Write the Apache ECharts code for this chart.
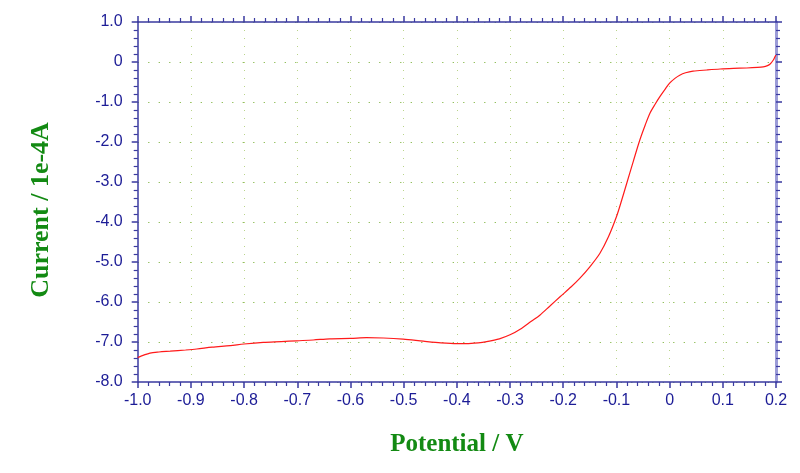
<!DOCTYPE html>
<html>
<head>
<meta charset="utf-8">
<script src="https://cdn.jsdelivr.net/npm/echarts@6/dist/echarts.min.js"></script>
<style>html,body{margin:0;padding:0;background:#fff;}#c{width:800px;height:473px;}</style>
</head>
<body>
<div id="c"></div>
<script>
// Potential (V)
const potential = [-1.000,-0.977,-0.960,-0.939,-0.910,-0.889,-0.860,-0.826,-0.800,-0.764,-0.730,-0.701,-0.670,-0.639,-0.600,-0.570,-0.538,-0.501,-0.463,-0.430,-0.400,-0.382,-0.360,-0.344,-0.320,-0.300,-0.281,-0.260,-0.244,-0.225,-0.206,-0.185,-0.169,-0.150,-0.131,-0.115,-0.100,-0.090,-0.081,-0.068,-0.056,-0.046,-0.037,-0.027,-0.018,-0.008,0.000,0.010,0.019,0.030,0.044,0.070,0.095,0.120,0.145,0.165,0.176,0.184,0.189,0.195,0.198,0.200];
// Current (1e-4 A)
const current = [-7.39,-7.28,-7.25,-7.23,-7.20,-7.175,-7.13,-7.09,-7.05,-7.01,-6.99,-6.97,-6.95,-6.92,-6.91,-6.89,-6.90,-6.93,-6.98,-7.02,-7.04,-7.04,-7.02,-6.99,-6.92,-6.82,-6.68,-6.48,-6.33,-6.10,-5.87,-5.62,-5.41,-5.12,-4.78,-4.37,-3.87,-3.45,-3.05,-2.47,-1.95,-1.58,-1.28,-1.05,-0.86,-0.67,-0.53,-0.41,-0.33,-0.27,-0.23,-0.20,-0.175,-0.16,-0.15,-0.135,-0.12,-0.09,-0.05,0.05,0.13,0.17];
const xTitle = 'Potential / V';
const yTitle = 'Current / 1e-4A';

const data = potential.map((v, i) => [v, current[i]]);
const axisColor = '#3a3aa0';
const labelColor = '#1c1c96';
const titleColor = '#138a13';
const fmt = v => Math.abs(v) < 1e-9 ? '0' : v.toFixed(1);

const tickCommon = {
  axisTick: {show: true, inside: false, length: 6, lineStyle: {color: axisColor, width: 1.5}},
  minorTick: {show: true, splitNumber: 5, length: 4, lineStyle: {color: axisColor, width: 1.2}}
};

const chart = echarts.init(document.getElementById('c'), null, {renderer: 'canvas'});
chart.setOption({
  animation: false,
  backgroundColor: '#ffffff',
  grid: {left: 137.7, right: 24, top: 22, bottom: 91, containLabel: false},
  xAxis: [Object.assign({
    type: 'value', position: 'bottom', min: -1.0, max: 0.2, interval: 0.1,
    name: xTitle, nameLocation: 'middle', nameGap: 50,
    nameTextStyle: {color: titleColor, fontFamily: 'Liberation Serif', fontWeight: 'bold', fontSize: 25},
    axisLine: {show: true, onZero: false, lineStyle: {color: axisColor, width: 1.5}},
    axisLabel: {color: labelColor, fontFamily: 'Liberation Sans', fontSize: 16, margin: 11, formatter: fmt},
    splitLine: {show: true, lineStyle: {color: '#b9d48a', width: 1, type: [1, 7]}}
  }, tickCommon), Object.assign({
    type: 'value', position: 'top', min: -1.0, max: 0.2, interval: 0.1,
    axisLine: {show: true, onZero: false, lineStyle: {color: axisColor, width: 1.5}},
    axisLabel: {show: false},
    splitLine: {show: false}
  }, tickCommon)],
  yAxis: [Object.assign({
    type: 'value', position: 'left', min: -8, max: 1, interval: 1,
    axisLine: {show: true, onZero: false, lineStyle: {color: axisColor, width: 1.5}},
    axisLabel: {color: labelColor, fontFamily: 'Liberation Sans', fontSize: 16, margin: 15, formatter: fmt},
    splitLine: {show: true, lineStyle: {color: '#86b84a', width: 1, type: [1.2, 9.3]}}
  }, tickCommon), Object.assign({
    type: 'value', position: 'right', min: -8, max: 1, interval: 1,
    axisLine: {show: true, onZero: false, lineStyle: {color: '#9c9cd8', width: 3}},
    axisLabel: {show: false},
    splitLine: {show: false}
  }, tickCommon)],
  graphic: [{
    type: 'text', x: 41, y: 210, rotation: Math.PI / 2,
    style: {text: yTitle, fill: titleColor, font: 'bold 26px "Liberation Serif"', textAlign: 'center', textVerticalAlign: 'middle'}
  }],
  series: [{
    type: 'line', xAxisIndex: 0, yAxisIndex: 0,
    data: data, showSymbol: false, smooth: 0.3,
    lineStyle: {color: '#ff1a1a', width: 1.2},
    z: 5
  }]
});
</script>
</body>
</html>
